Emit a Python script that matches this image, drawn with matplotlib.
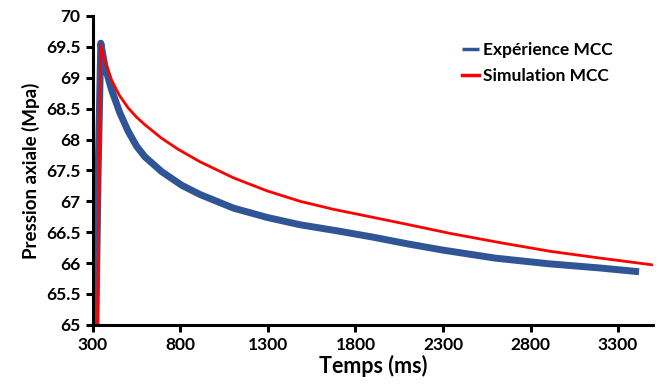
import matplotlib.pyplot as plt

# données
t_exp = [317, 330, 345, 369, 407, 454, 502, 550, 597, 693, 807, 912, 1103, 1294, 1484,
         1700, 1900, 2100, 2300, 2600, 2900, 3200, 3420]
p_exp = [65.0, 67.5, 69.56, 69.18, 68.80, 68.43, 68.13, 67.89, 67.72, 67.48, 67.26, 67.11,
         66.89, 66.74, 66.62, 66.52, 66.42, 66.31, 66.21, 66.08, 65.99, 65.92, 65.86]

t_sim = [326, 344, 360, 380, 407, 450, 502, 550, 597, 693, 788, 912, 1103, 1294, 1484, 1675,
         1866, 2056, 2342, 2628, 2914, 3200, 3500]
p_sim = [65.0, 69.53, 69.35, 69.18, 68.96, 68.72, 68.51, 68.36, 68.24, 68.02, 67.84, 67.64,
         67.38, 67.17, 67.00, 66.87, 66.76, 66.65, 66.48, 66.33, 66.19, 66.08, 65.97]

plt.rcParams['font.family'] = ['Lato', 'DejaVu Sans']
plt.rcParams['font.weight'] = 'bold'

fig, ax = plt.subplots(figsize=(6.59, 3.90), dpi=100)
fig.subplots_adjust(left=0.141, right=0.991, top=0.959, bottom=0.167)

ax.plot(t_exp, p_exp, color='#2F5597', lw=5, solid_capstyle='butt', solid_joinstyle='round',
        label='Expérience MCC')
ax.plot(t_sim, p_sim, color='#FF0000', lw=2.0, solid_joinstyle='round', label='Simulation MCC')

ax.set_xlim(300, 3500)
ax.set_ylim(65, 70)
ax.set_xticks(range(300, 3301, 500))
ax.set_yticks([65, 65.5, 66, 66.5, 67, 67.5, 68, 68.5, 69, 69.5, 70])
ax.set_yticklabels(['65', '65.5', '66', '66.5', '67', '67.5', '68', '68.5', '69', '69.5', '70'])

for s in ['top', 'right']:
    ax.spines[s].set_visible(False)
for s in ['left', 'bottom']:
    ax.spines[s].set_linewidth(2.2)
ax.tick_params(width=2.2, length=5, labelsize=12.5, pad=4)
for lab in ax.get_xticklabels() + ax.get_yticklabels():
    lab.set_fontweight('bold')

ax.set_xlabel('Temps (ms)', fontsize=15.5, fontweight='bold', labelpad=1)
ax.set_ylabel('Pression axiale (Mpa)', fontsize=13.5, fontweight='bold', labelpad=4)

leg = ax.legend(loc='upper right', bbox_to_anchor=(0.955, 0.967), frameon=False, fontsize=12.5,
                handlelength=1.0, handletextpad=0.2, labelspacing=0.6)
for line in leg.get_lines():
    line.set_linewidth(2.5)

plt.savefig('out.png', dpi=100)
